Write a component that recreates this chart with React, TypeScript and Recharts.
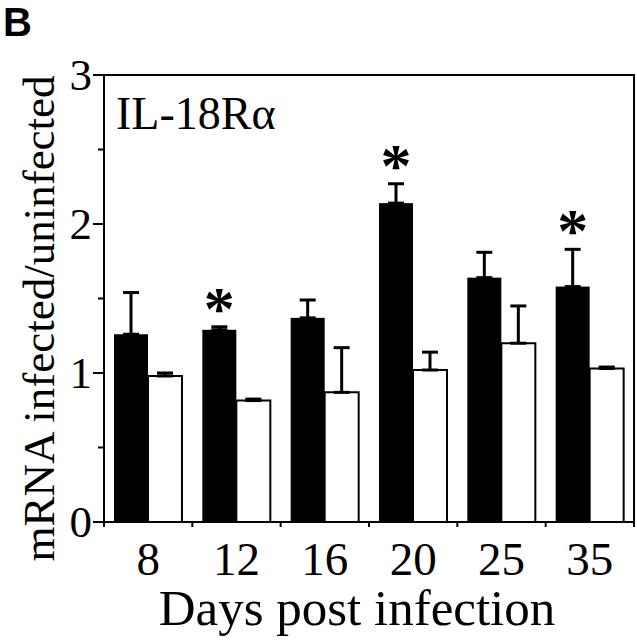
import {BarChart, Bar, XAxis, YAxis, ErrorBar, ReferenceArea} from "recharts";

const days = ["8", "12", "16", "20", "25", "35"];
const infected = [1.26, 1.29, 1.37, 2.14, 1.64, 1.58];
const infectedErr = [0.28, 0.02, 0.12, 0.13, 0.17, 0.25];
const uninfected = [0.98, 0.815, 0.87, 1.02, 1.2, 1.03];
const uninfectedErr = [0.02, 0.01, 0.3, 0.12, 0.25, 0.01];
const significant = [false, true, false, true, false, true];
const yTicks = [0, 0.5, 1, 1.5, 2, 2.5, 3];

const data = days.map((day, i) => ({
    day,
    infected: infected[i],
    infectedErr: [0, infectedErr[i]],
    uninfected: uninfected[i],
    uninfectedErr: [0, uninfectedErr[i]],
    sig: significant[i],
}));

const serif = "'Liberation Serif', 'Times New Roman', serif";
const W = 637;
const H = 640;
const M = {top: 75, right: 3, left: 0, bottom: 58};
const Y_W = 104;
const X_H = 60;
const band = (W - M.left - M.right - Y_W) / days.length;

const YTick = ({x, y, payload}: any) => {
    const v = payload.value;
    const major = Number.isInteger(v);
    return (
        <g>
            <line x1={x - (major ? 11 : 6)} x2={x} y1={y} y2={y} stroke="#000" strokeWidth={2}/>
            {major && (
                <text x={x - 12} y={y} dy={15} textAnchor="end" fontFamily={serif} fontSize={45} fill="#000">
                    {v}
                </text>
            )}
        </g>
    );
};

const XTick = ({x, y, payload, index}: any) => (
    <g>
        <line x1={x - band / 2} x2={x - band / 2} y1={y} y2={y + 5} stroke="#000" strokeWidth={2}/>
        {index === days.length - 1 && (
            <line x1={x + band / 2} x2={x + band / 2} y1={y} y2={y + 5} stroke="#000" strokeWidth={2}/>
        )}
        <text x={x} y={y + 53} textAnchor="middle" fontFamily={serif} fontSize={47} fill="#000">
            {payload.value}
        </text>
    </g>
);

const InfectedShape = (props: any) => {
    const {x, y, width, height, payload} = props;
    const capY = y - (payload.infectedErr[1] * height) / payload.infected;
    return (
        <g>
            <rect x={x} y={y} width={width} height={height} fill="#000"/>
            {payload.sig && (
                <text x={x + width / 2} y={capY + 2} textAnchor="middle" fontFamily={serif}
                      fontWeight="bold" fontSize={62} fill="#000">*</text>
            )}
        </g>
    );
};

const Frame = ({viewBox}: any) => (
    <g>
        <text x={viewBox.x + 12} y={viewBox.y + 54} fontFamily={serif} fontSize={46} fill="#000">IL-18Rα</text>
        <text x={3} y={36} fontFamily="'Liberation Sans', Arial, sans-serif" fontWeight="bold" fontSize={40} fill="#000">B</text>
    </g>
);

const YLabel = ({viewBox}: any) => {
    const cx = 54;
    const cy = viewBox.y + viewBox.height / 2 + 20;
    return (
        <text x={cx} y={cy} transform={`rotate(-90, ${cx}, ${cy})`} textAnchor="middle"
              fontFamily={serif} fontSize={45} fill="#000">
            mRNA infected/uninfected
        </text>
    );
};

const XLabel = ({viewBox}: any) => (
    <text x={viewBox.x + viewBox.width / 2 - 12} y={625} textAnchor="middle" fontFamily={serif} fontSize={51} fill="#000">
        Days post infection
    </text>
);

export default function App() {
    return (
        <div style={{position: "fixed", left: 0, top: 0, background: "#fff"}}>
            <BarChart width={W} height={H} data={data} margin={M} barGap={0} barSize={34}>
                <XAxis dataKey="day" height={X_H} axisLine={{stroke: "#000", strokeWidth: 2}} tickLine={false}
                       tickSize={0} tickMargin={0} tick={<XTick/>} interval={0} label={<XLabel/>}/>
                <YAxis width={Y_W} domain={[0, 3]} ticks={yTicks} interval={0} axisLine={{stroke: "#000", strokeWidth: 2}}
                       tickLine={false} tickSize={0} tickMargin={0} tick={<YTick/>} label={<YLabel/>}/>
                <ReferenceArea y1={0} y2={3} fill="none" stroke="#000" strokeWidth={2} ifOverflow="visible"
                               label={<Frame/>}/>
                <Bar dataKey="infected" fill="#000" isAnimationActive={false} shape={<InfectedShape/>}>
                    <ErrorBar dataKey="infectedErr" width={8} strokeWidth={3} stroke="#000" direction="y"/>
                </Bar>
                <Bar dataKey="uninfected" fill="#fff" stroke="#000" strokeWidth={2} isAnimationActive={false}>
                    <ErrorBar dataKey="uninfectedErr" width={8} strokeWidth={3} stroke="#000" direction="y"/>
                </Bar>
            </BarChart>
        </div>
    );
}
